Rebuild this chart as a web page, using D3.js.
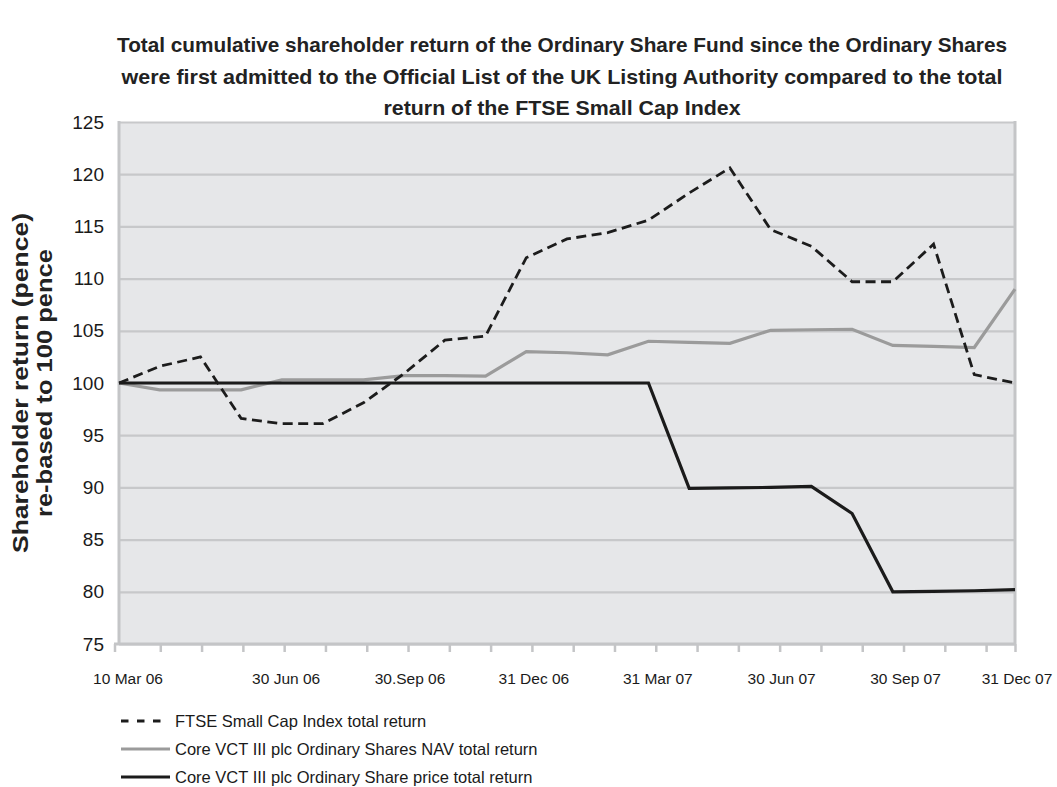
<!DOCTYPE html>
<html>
<head>
<meta charset="utf-8">
<script src="https://cdn.jsdelivr.net/npm/d3@7/dist/d3.min.js"></script>
<style>
  html, body { margin: 0; padding: 0; background: #ffffff; }
  svg { display: block; }
  text { font-family: "Liberation Sans", Arial, Helvetica, sans-serif; fill: #1a1a1a; }
</style>
</head>
<body>
<svg id="chart" width="1057" height="787"></svg>
<script>
// ---------------- data ----------------
const titleLines = [
  "Total cumulative shareholder return of the Ordinary Share Fund since the Ordinary Shares",
  "were first admitted to the Official List of the UK Listing Authority compared to the total",
  "return of the FTSE Small Cap Index"
];
const yTitleLines = ["Shareholder return (pence)", "re-based to 100 pence"];

// 23 observations: 10 Mar 06, then month ends to 31 Dec 07
const periods = ["10 Mar 06","31 Mar 06","30 Apr 06","31 May 06","30 Jun 06","31 Jul 06","31 Aug 06",
  "30 Sep 06","31 Oct 06","30 Nov 06","31 Dec 06","31 Jan 07","28 Feb 07","31 Mar 07","30 Apr 07",
  "31 May 07","30 Jun 07","31 Jul 07","31 Aug 07","30 Sep 07","31 Oct 07","30 Nov 07","31 Dec 07"];

const ftse  = [100, 101.6, 102.5, 96.6, 96.1, 96.1, 98.1, 100.9, 104.1, 104.5, 112.0, 113.8,
               114.4, 115.6, 118.2, 120.6, 114.7, 113.1, 109.7, 109.7, 113.3, 100.8, 100.0];
const nav   = [100, 99.35, 99.35, 99.35, 100.3, 100.3, 100.3, 100.7, 100.7, 100.65, 103.0, 102.9,
               102.7, 104.0, 103.9, 103.8, 105.05, 105.1, 105.15, 103.6, 103.5, 103.4, 109.0];
const price = [100, 100, 100, 100, 100, 100, 100, 100, 100, 100, 100, 100,
               100, 100, 89.9, 89.95, 90.0, 90.1, 87.5, 80.0, 80.05, 80.1, 80.2];

// monthly tick marks (10th of each month) and the closing date
const tickMonths = d3.range(0, 22);        // 10 Mar 06 ... 10 Dec 07
const tickEnd = 21.7;                       // 31 Dec 07
const xLabels = [
  {m: 0, text: "10 Mar 06"}, {m: 4, text: "30 Jun 06"}, {m: 7, text: "30.Sep 06"},
  {m: 10, text: "31 Dec 06"}, {m: 13, text: "31 Mar 07"}, {m: 16, text: "30 Jun 07"},
  {m: 19, text: "30 Sep 07"}, {m: 21.7, text: "31 Dec 07"}
];
const yTicks = [75, 80, 85, 90, 95, 100, 105, 110, 115, 120, 125];

const legendItems = [
  {name: "FTSE Small Cap Index total return", key: "ftse"},
  {name: "Core VCT III plc Ordinary Shares NAV total return", key: "nav"},
  {name: "Core VCT III plc Ordinary Share price total return", key: "price"}
];

// ---------------- layout ----------------
const svg = d3.select("#chart");
const L = 119, R = 1015, T = 122, B = 644;

const x = d3.scaleLinear().domain([0, periods.length - 1]).range([L, R]);
const xt = d3.scaleLinear().domain([0, tickEnd]).range([L, R]);
const y = d3.scaleLinear().domain([75, 125]).range([B, T]);

const styles = {
  ftse:  {stroke: "#1c1c1c", width: 2.8, dash: "10,5.5"},
  nav:   {stroke: "#9b9b9b", width: 3.2, dash: null},
  price: {stroke: "#1b1b1b", width: 3.2, dash: null}
};

// title
const titleWidths = [890, 881, 357];
svg.append("g").selectAll("text").data(titleLines).join("text")
  .attr("x", 562).attr("y", (d, i) => 52 + i * 31.5)
  .attr("text-anchor", "middle")
  .attr("textLength", (d, i) => titleWidths[i])
  .attr("lengthAdjust", "spacingAndGlyphs")
  .style("font-size", "21px").style("font-weight", "bold").style("fill", "#222")
  .text(d => d);

// plot background
svg.append("rect").attr("x", L).attr("y", T).attr("width", R - L).attr("height", B - T)
  .attr("fill", "#e6e7e9");

// gridlines
svg.append("g").call(
    d3.axisLeft(y).tickValues(yTicks).tickSize(-(R - L)).tickFormat("")
  ).attr("transform", `translate(${L},0)`)
  .call(g => g.select(".domain").remove())
  .call(g => g.selectAll(".tick line").attr("stroke", "#c7c8ca").attr("stroke-width", 2.2));

// y tick labels
svg.append("g").attr("transform", `translate(${L},0)`)
  .call(d3.axisLeft(y).tickValues(yTicks).tickSize(0).tickPadding(15).tickFormat(d3.format("d")))
  .call(g => g.select(".domain").remove())
  .call(g => g.selectAll("text").style("font-size", "19px").style("fill", "#1a1a1a")
      .style("font-family", "'Liberation Sans', Arial, sans-serif"));

// plot frame: left & right borders
svg.append("line").attr("x1", L).attr("x2", L).attr("y1", T - 1).attr("y2", B)
  .attr("stroke", "#c4c5c7").attr("stroke-width", 3);
svg.append("line").attr("x1", R).attr("x2", R).attr("y1", T - 1).attr("y2", B)
  .attr("stroke", "#c4c5c7").attr("stroke-width", 3);

// x axis with monthly ticks
const xAxis = svg.append("g").attr("transform", `translate(0,${B})`)
  .call(d3.axisBottom(xt).tickValues(tickMonths.concat([tickEnd])).tickSize(8).tickFormat(""));
xAxis.select(".domain").attr("stroke", "#c4c5c7").attr("stroke-width", 3)
  .attr("d", `M${L - 5},0H${R}`);
xAxis.selectAll(".tick line").attr("stroke", "#c4c5c7").attr("stroke-width", 2.5);
xAxis.selectAll(".tick").filter(d => d === 0).attr("transform", `translate(${L - 4},0)`);

// x labels
svg.append("g").selectAll("text").data(xLabels).join("text")
  .attr("x", d => xt(d.m) + (d.m === 0 ? 9 : 2))
  .attr("y", 684)
  .attr("text-anchor", "middle")
  .style("font-size", "15.5px")
  .text(d => d.text);

// lines
const line = d3.line().x((d, i) => x(i)).y(d => y(d));
const seriesData = {ftse, nav, price};
["nav", "price", "ftse"].forEach(k => {
  const s = styles[k];
  svg.append("path").datum(seriesData[k])
    .attr("d", line)
    .attr("fill", "none")
    .attr("stroke", s.stroke)
    .attr("stroke-width", s.width)
    .attr("stroke-linejoin", "miter")
    .attr("stroke-dasharray", s.dash);
});

// y axis title
const yTitleWidths = [340, 268];
const yt = svg.append("g").attr("transform", "translate(0,383) rotate(-90)");
yt.selectAll("text").data(yTitleLines).join("text")
  .attr("x", 0).attr("y", (d, i) => 28 + i * 23.5)
  .attr("text-anchor", "middle")
  .attr("textLength", (d, i) => yTitleWidths[i])
  .attr("lengthAdjust", "spacingAndGlyphs")
  .style("font-size", "22px").style("font-weight", "bold").style("fill", "#222")
  .text(d => d);

// legend
const lg = svg.append("g");
const rowY = [721, 749, 777];
legendItems.forEach((it, i) => {
  const s = styles[it.key];
  lg.append("line")
    .attr("x1", 121).attr("x2", it.key === "ftse" ? 161 : 170)
    .attr("y1", rowY[i]).attr("y2", rowY[i])
    .attr("stroke", s.stroke).attr("stroke-width", 3.2)
    .attr("stroke-dasharray", it.key === "ftse" ? "7.5,8.5" : null);
  lg.append("text").attr("x", 175).attr("y", rowY[i] + 6)
    .style("font-size", "16.5px")
    .text(it.name);
});
</script>
</body>
</html>
